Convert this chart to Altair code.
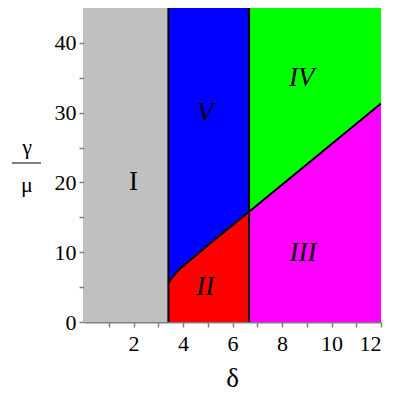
import altair as alt
import pandas as pd

# boundary curve between V (above) and II (below)
curve_x = [3.41, 3.45, 3.61, 3.88, 4.42, 5.09, 5.77, 6.67]
curve_y = [5.5, 5.85, 6.57, 7.67, 9.24, 11.24, 13.24, 15.8]
# boundary line between IV (above) and III (below)
line_x = [6.67, 12.0]
line_y = [15.8, 31.3]

x_split1 = 3.41
x_split2 = 6.67
y_max = 45
x_max = 12

labels = ["I", "II", "III", "IV", "V"]
label_x = [2.0, 4.9, 8.85, 8.8, 4.9]
label_y = [20.0, 5.0, 9.9, 35.0, 30.0]
label_style = ["normal", "italic", "italic", "italic", "italic"]

FONT = "Liberation Serif"

xs = alt.Scale(domain=[0, x_max], nice=False, zero=False)
ys = alt.Scale(domain=[0, y_max], nice=False)

axis_style = dict(domainColor="#808080", domainWidth=2, tickColor="#808080", tickWidth=1.5,
                  labelFont=FONT, labelFontSize=22, labelColor="black",
                  grid=False, labelOverlap=False, title=None)

x_axis = alt.Axis(values=list(range(1, 13)),
                  labelExpr="datum.value % 2 == 0 ? datum.label : ''",
                  tickSize=5, labelPadding=6, **axis_style)
y_axis = alt.Axis(values=list(range(0, 41, 5)),
                  labelExpr="datum.value % 10 == 0 ? datum.label : ''",
                  tickSize=5, labelPadding=3, **axis_style)


def X(f):
    return alt.X(f, scale=xs, axis=x_axis)


def Y(f):
    return alt.Y(f, scale=ys, axis=y_axis)


rect_df = pd.DataFrame({"x": [0], "x2": [x_split1], "y": [0], "y2": [y_max]})
region_I = alt.Chart(rect_df).mark_rect(color="#c0c0c0").encode(
    x=X("x:Q"), x2="x2:Q", y=Y("y:Q"), y2="y2:Q")

curve_df = pd.DataFrame({"x": curve_x, "y": curve_y, "zero": 0, "top": y_max})
line_df = pd.DataFrame({"x": line_x, "y": line_y, "zero": 0, "top": y_max})


def area(df, lo, hi, color):
    return alt.Chart(df).mark_area(color=color, opacity=1).encode(
        x=X("x:Q"), y=Y(f"{lo}:Q"), y2=f"{hi}:Q")


region_V = area(curve_df, "y", "top", "#0000ff")
region_II = area(curve_df, "zero", "y", "#ff0000")
region_IV = area(line_df, "y", "top", "#00ff00")
region_III = area(line_df, "zero", "y", "#ff00ff")

bound_df = pd.DataFrame({"x": curve_x + line_x[1:], "y": curve_y + line_y[1:]})
boundary = alt.Chart(bound_df).mark_line(color="black", strokeWidth=2).encode(
    x=X("x:Q"), y=Y("y:Q"))

vert_df = pd.DataFrame({"x": [x_split1, x_split2], "y": [0, 0], "y2": [y_max, y_max]})
verts = alt.Chart(vert_df).mark_rule(color="black", strokeWidth=2).encode(
    x=X("x:Q"), y=Y("y:Q"), y2="y2:Q")

lab_df = pd.DataFrame({"t": labels, "x": label_x, "y": label_y, "s": label_style})
lab_up = alt.Chart(lab_df[lab_df.s == "normal"]).mark_text(
    font=FONT, fontSize=27, color="black").encode(
    x=X("x:Q"), y=Y("y:Q"), text="t:N")
lab_it = alt.Chart(lab_df[lab_df.s == "italic"]).mark_text(
    font=FONT, fontSize=27, fontStyle="italic", color="black").encode(
    x=X("x:Q"), y=Y("y:Q"), text="t:N")

# axis titles: delta below, gamma / mu fraction on the left
title_df = pd.DataFrame({"t": ["γ", "μ", "δ"], "px": [-57, -57, 148.5], "py": [146, 184, 379]})
title_small = alt.Chart(title_df.head(2)).mark_text(
    font=FONT, fontSize=22, color="black", baseline="alphabetic").encode(
    x=alt.X("px:Q", scale=None), y=alt.Y("py:Q", scale=None), text="t:N")
title_delta = alt.Chart(title_df.tail(1)).mark_text(
    font=FONT, fontSize=27, color="black", baseline="alphabetic").encode(
    x=alt.X("px:Q", scale=None), y=alt.Y("py:Q", scale=None), text="t:N")
frac_bar = alt.Chart(title_df.head(1)).mark_rule(color="#808080", strokeWidth=2).encode(
    x=alt.value(-72), x2=alt.value(-43), y=alt.value(155))

chart = alt.layer(region_I, region_V, region_II, region_IV, region_III,
                  boundary, verts, lab_up, lab_it,
                  title_small, title_delta, frac_bar).properties(
    width=297, height=314,
    autosize=alt.AutoSizeParams(type="none"),
    padding={"left": 76, "top": 0, "right": 10, "bottom": 70},
).configure_view(stroke=None).configure_axis(labelFont=FONT)

chart.save("out.html", embed_options={"renderer": "svg", "actions": False})
